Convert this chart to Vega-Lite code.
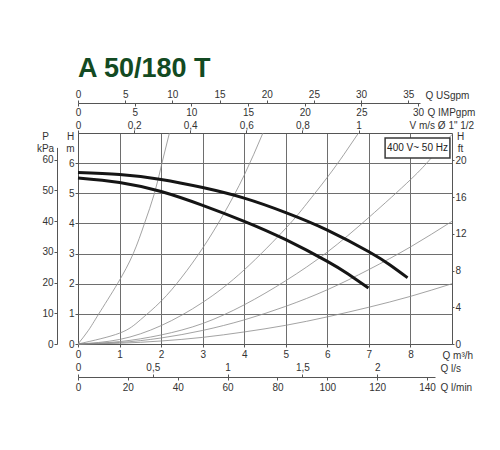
{
  "$schema": "https://vega.github.io/schema/vega-lite/v6.json",
  "width": 374,
  "height": 211,
  "autosize": {"type": "none"},
  "padding": {"left": 78, "top": 133, "right": 48, "bottom": 106},
  "background": "white",
  "title": {"text": "A 50/180 T", "anchor": "start", "frame": "group", "fontSize": 27, "fontWeight": "bold", "font": "Liberation Sans", "color": "#134a22", "offset": 6},
  "datasets": {
    "system": [
      {"c": "A", "q": 0, "h": 0}, {"c": "A", "q": 0.25, "h": 0.45}, {"c": "A", "q": 0.5, "h": 1}, {"c": "A", "q": 0.95, "h": 2}, {"c": "A", "q": 1.33, "h": 3}, {"c": "A", "q": 1.6, "h": 4}, {"c": "A", "q": 1.84, "h": 5}, {"c": "A", "q": 2.02, "h": 6}, {"c": "A", "q": 2.2, "h": 7},
      {"c": "B", "q": 0, "h": 0}, {"c": "B", "q": 1, "h": 0.36}, {"c": "B", "q": 1.5, "h": 0.8}, {"c": "B", "q": 2, "h": 1.42}, {"c": "B", "q": 2.5, "h": 2.22}, {"c": "B", "q": 3, "h": 3.18}, {"c": "B", "q": 3.5, "h": 4.3}, {"c": "B", "q": 4, "h": 5.6}, {"c": "B", "q": 4.45, "h": 7},
      {"c": "C", "q": 0, "h": 0}, {"c": "C", "q": 1, "h": 0.15}, {"c": "C", "q": 2, "h": 0.61}, {"c": "C", "q": 3, "h": 1.38}, {"c": "C", "q": 4, "h": 2.46}, {"c": "C", "q": 5, "h": 3.84}, {"c": "C", "q": 5.5, "h": 4.65}, {"c": "C", "q": 6, "h": 5.53}, {"c": "C", "q": 6.4, "h": 6.29}, {"c": "C", "q": 6.75, "h": 7},
      {"c": "D", "q": 0, "h": 0}, {"c": "D", "q": 1, "h": 0.08}, {"c": "D", "q": 2, "h": 0.3}, {"c": "D", "q": 3, "h": 0.68}, {"c": "D", "q": 4, "h": 1.3}, {"c": "D", "q": 5, "h": 2.1}, {"c": "D", "q": 6, "h": 3.05}, {"c": "D", "q": 7, "h": 4.2}, {"c": "D", "q": 8, "h": 5.45}, {"c": "D", "q": 8.5, "h": 6.17}, {"c": "D", "q": 9, "h": 6.95},
      {"c": "E", "q": 0, "h": 0}, {"c": "E", "q": 1, "h": 0.05}, {"c": "E", "q": 2, "h": 0.2}, {"c": "E", "q": 3, "h": 0.45}, {"c": "E", "q": 4, "h": 0.8}, {"c": "E", "q": 5, "h": 1.25}, {"c": "E", "q": 6, "h": 1.8}, {"c": "E", "q": 7, "h": 2.47}, {"c": "E", "q": 8, "h": 3.22}, {"c": "E", "q": 9, "h": 4.07},
      {"c": "F", "q": 0, "h": 0}, {"c": "F", "q": 1, "h": 0.025}, {"c": "F", "q": 2, "h": 0.1}, {"c": "F", "q": 3, "h": 0.22}, {"c": "F", "q": 4, "h": 0.4}, {"c": "F", "q": 5, "h": 0.62}, {"c": "F", "q": 6, "h": 0.9}, {"c": "F", "q": 7, "h": 1.22}, {"c": "F", "q": 8, "h": 1.58}, {"c": "F", "q": 9, "h": 2.0}
    ],
    "pump": [
      {"c": "upper", "q": 0, "h": 5.69}, {"c": "upper", "q": 1, "h": 5.62}, {"c": "upper", "q": 2, "h": 5.46}, {"c": "upper", "q": 3, "h": 5.19}, {"c": "upper", "q": 4, "h": 4.84}, {"c": "upper", "q": 5, "h": 4.36}, {"c": "upper", "q": 6, "h": 3.78}, {"c": "upper", "q": 7, "h": 3.06}, {"c": "upper", "q": 7.5, "h": 2.63}, {"c": "upper", "q": 7.93, "h": 2.2},
      {"c": "lower", "q": 0, "h": 5.51}, {"c": "lower", "q": 1, "h": 5.36}, {"c": "lower", "q": 2, "h": 5.06}, {"c": "lower", "q": 3, "h": 4.6}, {"c": "lower", "q": 4, "h": 4.07}, {"c": "lower", "q": 5, "h": 3.46}, {"c": "lower", "q": 6, "h": 2.74}, {"c": "lower", "q": 6.5, "h": 2.32}, {"c": "lower", "q": 6.99, "h": 1.86}
    ],
    "box": [{"q1": 7.39, "q2": 8.95, "h1": 6.17, "h2": 6.83, "qc": 8.17, "hc": 6.5, "label": "400 V~ 50 Hz"}],
    "dummy": [{"v": 0}]
  },
  "layer": [
    {
      "data": {"name": "system"},
      "mark": {"type": "line", "interpolate": "natural", "color": "#8c8c8c", "strokeWidth": 0.8},
      "encoding": {
        "x": {"field": "q", "type": "quantitative", "scale": {"domain": [0, 9], "nice": false, "zero": false},
              "axis": {"orient": "bottom", "values": [0, 1, 2, 3, 4, 5, 6, 7, 8], "grid": true, "tickSize": 3, "labelPadding": 2,
                       "title": "Q m³/h", "titleX": 364, "titleY": 11, "titleAlign": "left", "titleBaseline": "middle", "titleAnchor": null}},
        "y": {"field": "h", "type": "quantitative", "scale": {"domain": [0, 7], "nice": false, "zero": false},
              "axis": {"orient": "left", "values": [0, 1, 2, 3, 4, 5, 6], "grid": true, "tickSize": 3, "labelPadding": 1,
                       "title": ["H", "m"], "titleAngle": 0, "titleX": -8, "titleY": 6, "titleAlign": "center", "titleBaseline": "alphabetic", "titleLineHeight": 12, "titleAnchor": null}},
        "detail": {"field": "c", "type": "nominal"}
      }
    },
    {
      "data": {"name": "pump"},
      "mark": {"type": "line", "interpolate": "natural", "color": "#151515", "strokeWidth": 3},
      "encoding": {
        "x": {"field": "q", "type": "quantitative", "scale": {"domain": [0, 9], "nice": false, "zero": false}, "axis": null},
        "y": {"field": "h", "type": "quantitative", "scale": {"domain": [0, 7], "nice": false, "zero": false}, "axis": null},
        "detail": {"field": "c", "type": "nominal"}
      }
    },
    {
      "data": {"name": "box"},
      "mark": {"type": "rect", "fill": "white", "stroke": "#3a3a3a", "strokeWidth": 1.5},
      "encoding": {
        "x": {"field": "q1", "type": "quantitative", "scale": {"domain": [0, 9], "nice": false, "zero": false}, "axis": null},
        "x2": {"field": "q2"},
        "y": {"field": "h1", "type": "quantitative", "scale": {"domain": [0, 7], "nice": false, "zero": false}, "axis": null},
        "y2": {"field": "h2"}
      }
    },
    {
      "data": {"name": "box"},
      "mark": {"type": "text", "font": "Liberation Sans", "fontSize": 10, "color": "#222", "align": "center", "baseline": "middle"},
      "encoding": {
        "x": {"field": "qc", "type": "quantitative", "scale": {"domain": [0, 9], "nice": false, "zero": false}, "axis": null},
        "y": {"field": "hc", "type": "quantitative", "scale": {"domain": [0, 7], "nice": false, "zero": false}, "axis": null},
        "text": {"field": "label"}
      }
    },
    {
      "data": {"name": "dummy"},
      "mark": {"type": "point", "opacity": 0},
      "encoding": {
        "x": {"field": "v", "type": "quantitative", "scale": {"domain": [0, 36.24], "range": [0, 342], "nice": false, "zero": false},
              "axis": {"orient": "top", "offset": 30, "values": [0, 5, 10, 15, 20, 25, 30, 35], "grid": false, "tickSize": 3, "labelPadding": 1,
                       "title": "Q USgpm", "titleX": 347, "titleY": -8, "titleAlign": "left", "titleBaseline": "middle", "titleAnchor": null}}
      }
    },
    {
      "data": {"name": "dummy"},
      "mark": {"type": "point", "opacity": 0},
      "encoding": {
        "x": {"field": "v", "type": "quantitative", "scale": {"domain": [0, 30.17], "range": [0, 342], "nice": false, "zero": false},
              "axis": {"orient": "bottom", "offset": -241, "values": [0, 5, 10, 15, 20, 25, 30], "grid": false, "tickSize": 3, "labelPadding": 1, "domain": false,
                       "title": "Q IMPgpm", "titleX": 349, "titleY": 9, "titleAlign": "left", "titleBaseline": "middle", "titleAnchor": null}}
      }
    },
    {
      "data": {"name": "dummy"},
      "mark": {"type": "point", "opacity": 0},
      "encoding": {
        "x": {"field": "v", "type": "quantitative", "scale": {"domain": [0, 1.3333], "nice": false, "zero": false},
              "axis": {"orient": "top", "offset": 0, "values": [0, 0.2, 0.4, 0.6, 0.8, 1], "grid": false, "tickSize": 3, "labelPadding": 0,
                       "labelExpr": "replace(format(datum.value, '~g'), '.', ',')",
                       "title": "V m/s Ø 1\" 1/2", "titleX": 331, "titleY": -8, "titleAlign": "left", "titleBaseline": "middle", "titleAnchor": null}}
      }
    },
    {
      "data": {"name": "dummy"},
      "mark": {"type": "point", "opacity": 0},
      "encoding": {
        "x": {"field": "v", "type": "quantitative", "scale": {"domain": [0, 2.386], "range": [0, 357], "nice": false, "zero": false},
              "axis": {"orient": "top", "offset": -244, "values": [0, 0.5, 1, 1.5, 2], "grid": false, "tickSize": 3, "labelPadding": 2,
                       "labelExpr": "replace(format(datum.value, '~g'), '.', ',')",
                       "title": "Q l/s", "titleX": 362, "titleY": -9, "titleAlign": "left", "titleBaseline": "middle", "titleAnchor": null}}
      }
    },
    {
      "data": {"name": "dummy"},
      "mark": {"type": "point", "opacity": 0},
      "encoding": {
        "x": {"field": "v", "type": "quantitative", "scale": {"domain": [0, 143.2], "range": [0, 357], "nice": false, "zero": false},
              "axis": {"orient": "bottom", "offset": 33, "values": [0, 20, 40, 60, 80, 100, 120, 140], "grid": false, "tickSize": 3, "labelPadding": 2, "domain": false,
                       "title": "Q l/min", "titleX": 362, "titleY": 10, "titleAlign": "left", "titleBaseline": "middle", "titleAnchor": null}}
      }
    },
    {
      "data": {"name": "dummy"},
      "mark": {"type": "point", "opacity": 0},
      "encoding": {
        "y": {"field": "v", "type": "quantitative", "scale": {"domain": [0, 64], "range": [211, 14.4], "nice": false, "zero": false},
              "axis": {"orient": "left", "offset": 21, "values": [0, 10, 20, 30, 40, 50, 60], "grid": false, "tickSize": 3, "labelPadding": 1,
                       "title": ["P", "kPa"], "titleAngle": 0, "titleX": -12, "titleY": 6, "titleAlign": "center", "titleBaseline": "alphabetic", "titleLineHeight": 12, "titleAnchor": null}}
      }
    },
    {
      "data": {"name": "dummy"},
      "mark": {"type": "point", "opacity": 0},
      "encoding": {
        "y": {"field": "v", "type": "quantitative", "scale": {"domain": [0, 22.966], "nice": false, "zero": false},
              "axis": {"orient": "right", "offset": 0, "values": [0, 4, 8, 12, 16, 20], "grid": false, "tickSize": 2, "labelPadding": 1,
                       "title": ["H", "ft"], "titleAngle": 0, "titleX": 8, "titleY": 6, "titleAlign": "center", "titleBaseline": "alphabetic", "titleLineHeight": 12, "titleAnchor": null}}
      }
    }
  ],
  "resolve": {"scale": {"x": "independent", "y": "independent"}, "axis": {"x": "independent", "y": "independent"}},
  "config": {
    "view": {"stroke": null},
    "axis": {"labelFont": "Liberation Sans", "titleFont": "Liberation Sans", "labelFontSize": 10, "titleFontSize": 10, "titleFontWeight": "normal",
             "labelColor": "#333", "titleColor": "#333", "domainColor": "#555", "tickColor": "#555", "gridColor": "#6e6e6e", "gridOpacity": 1,
             "labelOverlap": false, "labelFlush": false, "labelBound": false, "titlePadding": 0}
  }
}
